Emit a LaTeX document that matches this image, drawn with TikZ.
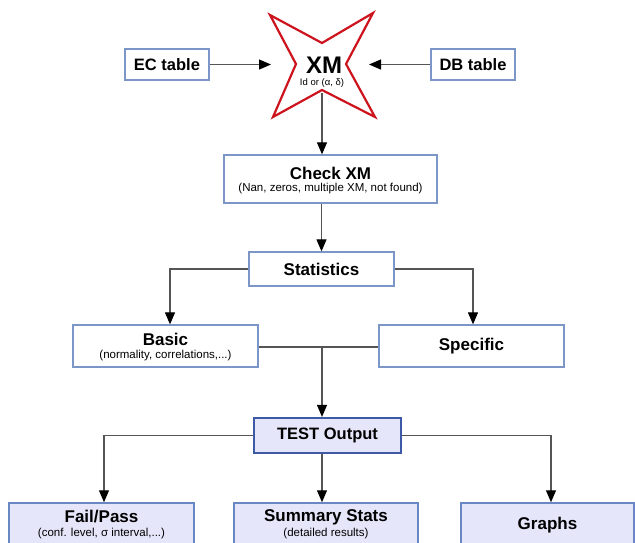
\documentclass[tikz,border=0pt]{standalone}
\usepackage{fontspec}
\setmainfont{Liberation Sans}
\usetikzlibrary{arrows.meta,calc}
\definecolor{boxline}{RGB}{125,150,200}
\definecolor{boxline2}{RGB}{105,135,195}
\definecolor{testline}{RGB}{60,90,165}
\definecolor{lav}{RGB}{230,230,250}
\definecolor{starred}{RGB}{205,20,30}
\definecolor{connc}{RGB}{85,85,85}
\newcommand{\fsz}[1]{\fontsize{#1}{#1}\selectfont}
\tikzset{
  plainbox/.style={draw=boxline, line width=1.3pt, fill=white, inner sep=0pt, align=center},
  lavbox/.style={draw=boxline2, line width=1.5pt, fill=lav, inner sep=0pt, align=center},
  testbox/.style={draw=testline, line width=2.2pt, fill=lav, inner sep=0pt, align=center},
  conn/.style={draw=connc, line width=1.1pt, -{Triangle[length=12pt,width=10pt,color=black]}},
  joinline/.style={draw=connc, line width=1.1pt},
  titlef/.style={font=\fsz{17}\bfseries, inner sep=0pt},
  subf/.style={font=\fsz{11.5}, inner sep=0pt},
}
\begin{document}
\begin{tikzpicture}[x=1pt,y=-1pt]
\useasboundingbox (0,0) rectangle (635,542);
\clip (0,0) rectangle (635,542);
\fill[white] (0,0) rectangle (635,542);

% star
\coordinate (tl) at (270,15);
\coordinate (ti) at (322,43);
\coordinate (tr) at (373,13);
\coordinate (ri) at (346,64);
\coordinate (br) at (375,117);
\coordinate (bi) at (322,90);
\coordinate (bl) at (273,117);
\coordinate (li) at (296,64);
\draw[starred, line width=2.2pt, line join=miter, fill=white]
  (tl) -- (ti) -- (tr) -- (ri) -- (br) -- (bi) -- (bl) -- (li) -- cycle;
\node[inner sep=0pt, font=\fsz{24}\bfseries] (xm) at (324,65.5) {XM};
\node[inner sep=0pt, font=\fsz{9.5}] (xmsub) at (322,83) {Id or (α, δ)};
\coordinate (starL) at (271,64.5);
\coordinate (starR) at (369,64.5);
\coordinate (starB) at (322,93);

\node[plainbox, minimum width=84pt, minimum height=31pt, font=\fsz{16.5}\bfseries] (ec) at (167,64.5) {EC table};
\node[plainbox, minimum width=84pt, minimum height=31pt, font=\fsz{16.5}\bfseries] (db) at (473,64.5) {DB table};

\node[plainbox, minimum width=213pt, minimum height=48pt] (chk) at (330.5,179) {};
\node[titlef] (chkt) at ([yshift=6pt]chk.center) {Check XM};
\node[subf] (chks) at ([yshift=-10pt]chk.center) {(Nan, zeros, multiple XM, not found)};

\node[plainbox, minimum width=145pt, minimum height=34pt, font=\fsz{17}\bfseries] (stat) at (321.5,269) {Statistics};

\node[plainbox, minimum width=185pt, minimum height=42pt] (basic) at (165.5,346) {};
\node[titlef] (basict) at ([yshift=7pt]basic.center) {Basic};
\node[subf] (basics) at ([yshift=-10pt]basic.center) {(normality, correlations,...)};
\node[plainbox, minimum width=185pt, minimum height=42pt, font=\fsz{17}\bfseries] (spec) at (471.5,346) {Specific};
\coordinate (j) at (322,347);

\node[testbox, minimum width=147pt, minimum height=35pt, font=\fsz{16.5}\bfseries] (test) at (327.5,435.5) {TEST Output};

\node[lavbox, minimum width=185pt, minimum height=45pt] (fail) at (101.5,525.5) {};
\node[titlef] (failt) at ([yshift=8.5pt]fail.center) {Fail/Pass};
\node[subf] (fails) at ([yshift=-8.5pt]fail.center) {(conf. level, σ interval,...)};
\node[lavbox, minimum width=184pt, minimum height=45pt] (summ) at (326,525.5) {};
\node[titlef] (summt) at ([yshift=8.5pt]summ.center) {Summary Stats};
\node[subf] (summs) at ([yshift=-8.5pt]summ.center) {(detailed results)};
\node[lavbox, minimum width=173pt, minimum height=45pt, font=\fsz{17}\bfseries] (graphs) at (547.5,525.5) {Graphs};

% connectors
\draw[conn] (ec) -- (starL);
\draw[conn] (db) -- (starR);
\draw[conn] (starB) -- (chk.north -| starB);
\draw[conn] (stat.north |- chk.south) -- (stat.north);
\draw[conn] (stat.west) -| ([xshift=4.5pt]basic.north);
\draw[conn] (stat.east) -| ([xshift=1.5pt]spec.north);
\draw[joinline] (basic.east |- j) -- (spec.west |- j);
\draw[conn] (j) -- (test.north -| j);
\draw[conn] (test.west) -| ([xshift=2.5pt]fail.north);
\draw[conn] (test.south -| j) -- (summ.north -| j);
\draw[conn] (test.east) -| ([xshift=3.5pt]graphs.north);
\end{tikzpicture}
\end{document}
